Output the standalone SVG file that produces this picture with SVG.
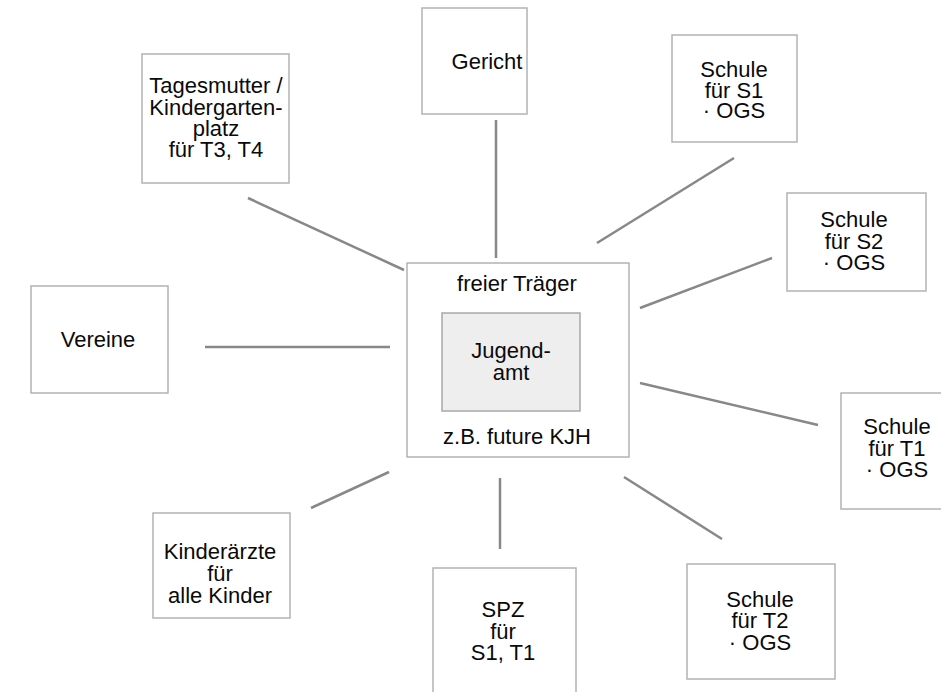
<svg xmlns="http://www.w3.org/2000/svg" width="941" height="692" viewBox="0 0 941 692">
<style>
.box{fill:#fff;stroke:#b3b3b3;stroke-width:1.5}
.inner{fill:#eeeeee;stroke:#a8a8a8;stroke-width:1.5}
text{font-family:"Liberation Sans",Arial,sans-serif;font-size:22px;fill:#0a0a0a;text-anchor:middle}
.conn line{stroke:#888;stroke-width:2.5}
</style>
<rect width="941" height="692" fill="#fff"/>
<g id="connectors" class="conn">
<line x1="248" y1="198" x2="404" y2="270"/>
<line x1="496" y1="120" x2="496" y2="258"/>
<line x1="597" y1="243" x2="734" y2="158"/>
<line x1="640" y1="308" x2="772" y2="258"/>
<line x1="205" y1="347" x2="390" y2="347"/>
<line x1="640" y1="383" x2="818" y2="425"/>
<line x1="311" y1="508" x2="389" y2="472"/>
<line x1="500" y1="478" x2="500" y2="549"/>
<line x1="624" y1="477" x2="722" y2="539"/>
</g>
<g id="center">
<rect class="box" x="407" y="263" width="222" height="194"/>
<text x="517" y="291">freier Träger</text>
<text x="517" y="444">z.B. future KJH</text>
</g>
<g id="jugendamt">
<rect class="inner" x="442" y="313" width="138" height="98"/>
<text x="511" y="358">Jugend-</text>
<text x="511" y="380">amt</text>
</g>
<g id="gericht">
<rect class="box" x="422" y="8" width="105" height="106"/>
<text x="487" y="69">Gericht</text>
</g>
<g id="tagesmutter">
<rect class="box" x="142" y="54" width="147" height="129"/>
<text x="216" y="93">Tagesmutter /</text>
<text x="216" y="114.5">Kindergarten-</text>
<text x="216" y="136">platz</text>
<text x="216" y="157">für T3, T4</text>
</g>
<g id="schule-s1">
<rect class="box" x="672" y="35" width="125" height="107"/>
<text x="734" y="77">Schule</text>
<text x="734" y="98">für S1</text>
<text x="734" y="118">· OGS</text>
</g>
<g id="schule-s2">
<rect class="box" x="787" y="193" width="139" height="98"/>
<text x="854" y="227">Schule</text>
<text x="854" y="249">für S2</text>
<text x="854" y="270">· OGS</text>
</g>
<g id="vereine">
<rect class="box" x="31" y="286" width="137" height="107"/>
<text x="98" y="347">Vereine</text>
</g>
<g id="schule-t1">
<rect class="box" x="841" y="393" width="110" height="116"/>
<text x="897" y="434">Schule</text>
<text x="897" y="456">für T1</text>
<text x="897" y="477">· OGS</text>
</g>
<g id="kinderaerzte">
<rect class="box" x="153" y="513" width="137" height="105"/>
<text x="220" y="559">Kinderärzte</text>
<text x="220" y="581">für</text>
<text x="220" y="603">alle Kinder</text>
</g>
<g id="spz">
<rect class="box" x="433" y="568" width="143" height="130"/>
<text x="503" y="617">SPZ</text>
<text x="503" y="639">für</text>
<text x="503" y="660">S1, T1</text>
</g>
<g id="schule-t2">
<rect class="box" x="687" y="564" width="148" height="115"/>
<text x="760" y="607">Schule</text>
<text x="760" y="628">für T2</text>
<text x="760" y="650">· OGS</text>
</g>
</svg>
